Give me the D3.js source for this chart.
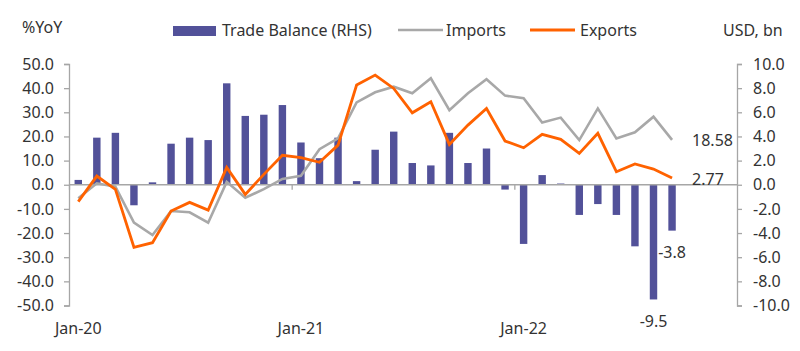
<!DOCTYPE html>
<html>
<head>
<meta charset="utf-8">
<script src="https://cdn.jsdelivr.net/npm/d3@7"></script>
<style>
  body { margin: 0; background: #fff; }
  svg text { font-family: 'Noto Sans', 'Open Sans', sans-serif; fill: #333; }
</style>
</head>
<body>
<div id="chart"></div>
<script>
var W = 800;
var H = 351;
var fs = '16px';

// axis slots run Jan-20 .. Dec-22, data stops at Sep-22
var months = ['Jan-20','Feb-20','Mar-20','Apr-20','May-20','Jun-20','Jul-20','Aug-20','Sep-20','Oct-20','Nov-20','Dec-20',
  'Jan-21','Feb-21','Mar-21','Apr-21','May-21','Jun-21','Jul-21','Aug-21','Sep-21','Oct-21','Nov-21','Dec-21',
  'Jan-22','Feb-22','Mar-22','Apr-22','May-22','Jun-22','Jul-22','Aug-22','Sep-22','Oct-22','Nov-22','Dec-22'];
var xLabels = ['Jan-20', 'Jan-21', 'Jan-22'];

var tradeBalance = [0.4, 3.9, 4.3, -1.7, 0.2, 3.4, 3.9, 3.7, 8.4, 5.7, 5.8, 6.6,
  3.5, 2.2, 3.9, 0.3, 2.9, 4.4, 1.8, 1.6, 4.3, 1.8, 3.0, -0.4,
  -4.9, 0.8, 0.1, -2.5, -1.6, -2.5, -5.1, -9.5, -3.8];
var imports = [-5.6, 0.6, -0.8, -15.7, -20.8, -10.9, -11.4, -15.7, 1.2, -5.4, -1.8, 2.4,
  3.7, 14.7, 19.2, 34.1, 38.3, 40.6, 37.9, 44.1, 30.9, 37.9, 43.7, 36.9,
  35.8, 25.8, 27.8, 18.5, 31.6, 19.2, 21.7, 28.2, 18.58];
var exports = [-7.0, 3.6, -1.9, -25.9, -24.0, -10.9, -7.3, -10.5, 7.2, -4.0, 4.3, 12.2,
  11.2, 9.3, 16.4, 41.3, 45.4, 39.9, 29.8, 34.4, 16.7, 24.7, 31.6, 18.1,
  15.3, 20.9, 18.8, 13.0, 21.3, 5.4, 8.6, 6.5, 2.77];

var leftTicks = [-50, -40, -30, -20, -10, 0, 10, 20, 30, 40, 50];
var rightTicks = [-10, -8, -6, -4, -2, 0, 2, 4, 6, 8, 10];
var barLabelled = ['Aug-22', 'Sep-22'];

var blue = '#525199';
var grey = '#a8a8a8';
var orange = '#ff6200';
var axisCol = '#a6a6a6';

var svg = d3.select('#chart').append('svg').attr('width', W).attr('height', H);

var x = d3.scaleBand().domain(months).range([69, 737]).paddingInner(0.6).paddingOuter(0.3);
var step = x.step();
var yL = d3.scaleLinear().domain([-50, 50]).range([305.5, 64]);
var yR = d3.scaleLinear().domain([-10, 10]).range([305.5, 64]);

function cx(i) { return x(months[i]) + x.bandwidth() / 2; }
function fmt(d) { return d3.format('.1f')(d).replace('\u2212', '-'); }

/* ===== BARS ===== */
svg.selectAll('rect.bar')
  .data(tradeBalance)
  .enter()
  .append('rect')
  .attr('class', 'bar')
  .attr('x', function (d, i) { return x(months[i]); })
  .attr('width', x.bandwidth())
  .attr('y', function (d) { return Math.min(yR(d), yR(0)); })
  .attr('height', function (d) { return Math.abs(yR(d) - yR(0)); })
  .attr('fill', blue);

/* ===== AXES ===== */
var leftAxis = svg.append('g')
  .attr('transform', 'translate(69,0)')
  .call(d3.axisLeft(yL).tickValues(leftTicks).tickSize(5).tickPadding(10).tickFormat(fmt));
var rightAxis = svg.append('g')
  .attr('transform', 'translate(737,0)')
  .call(d3.axisRight(yR).tickValues(rightTicks).tickSize(5).tickPadding(11).tickFormat(fmt));

[leftAxis, rightAxis].forEach(function (g) {
  g.select('.domain').attr('stroke', axisCol).attr('stroke-width', 1.3);
  g.selectAll('.tick line').attr('stroke', axisCol).attr('stroke-width', 1.3);
  g.selectAll('.tick text').style('font-size', fs).attr('fill', '#333');
});

// zero line with yearly ticks
svg.append('line')
  .attr('x1', 69).attr('x2', 737)
  .attr('y1', yL(0)).attr('y2', yL(0))
  .attr('stroke', axisCol).attr('stroke-width', 1.3);

svg.selectAll('line.xtick')
  .data(xLabels)
  .enter()
  .append('line')
  .attr('class', 'xtick')
  .attr('x1', function (d) { return x(d) - step * x.paddingInner() / 2 + 0.5; })
  .attr('x2', function (d) { return x(d) - step * x.paddingInner() / 2 + 0.5; })
  .attr('y1', yL(0)).attr('y2', yL(0) + 5)
  .attr('stroke', axisCol).attr('stroke-width', 1.3);

svg.selectAll('text.xlab')
  .data(xLabels)
  .enter()
  .append('text')
  .attr('class', 'xlab')
  .attr('x', function (d) { return x(d) + x.bandwidth() / 2; })
  .attr('y', 328)
  .attr('dy', '0.35em')
  .attr('text-anchor', 'middle')
  .style('font-size', fs)
  .text(function (d) { return d; });

/* ===== LINES ===== */
var line = d3.line()
  .x(function (d, i) { return cx(i); })
  .y(function (d) { return yL(d); });

svg.append('path')
  .datum(imports)
  .attr('d', line)
  .attr('fill', 'none')
  .attr('stroke', grey)
  .attr('stroke-width', 2.6)
  .attr('stroke-linejoin', 'miter');

svg.append('path')
  .datum(exports)
  .attr('d', line)
  .attr('fill', 'none')
  .attr('stroke', orange)
  .attr('stroke-width', 2.8)
  .attr('stroke-linejoin', 'miter');

/* ===== END LABELS ===== */
var last = imports.length - 1;
svg.append('text')
  .attr('x', cx(last) + 20)
  .attr('y', yL(imports[last]) + 1)
  .attr('dy', '0.35em')
  .style('font-size', fs)
  .text(imports[last].toFixed(2));
svg.append('text')
  .attr('x', cx(last) + 20)
  .attr('y', yL(exports[last]) + 1)
  .attr('dy', '0.35em')
  .style('font-size', fs)
  .text(exports[last].toFixed(2));

svg.selectAll('text.barlab')
  .data(barLabelled)
  .enter()
  .append('text')
  .attr('class', 'barlab')
  .attr('x', function (d) { return x(d) + x.bandwidth() / 2; })
  .attr('y', function (d) { return yR(tradeBalance[months.indexOf(d)]) + 22; })
  .attr('dy', '0.35em')
  .attr('text-anchor', 'middle')
  .style('font-size', fs)
  .text(function (d) { return fmt(tradeBalance[months.indexOf(d)]); });

/* ===== LEGEND & UNITS ===== */
svg.append('text').attr('x', 22).attr('y', 27).attr('dy', '0.35em').style('font-size', fs).text('%YoY');
svg.append('text').attr('x', 723).attr('y', 30).attr('dy', '0.35em').style('font-size', fs).text('USD, bn');

svg.append('rect').attr('x', 173).attr('y', 26).attr('width', 43).attr('height', 10).attr('fill', blue);
svg.append('text').attr('x', 222).attr('y', 30).attr('dy', '0.35em').style('font-size', fs).text('Trade Balance (RHS)');

svg.append('line').attr('x1', 398).attr('x2', 443).attr('y1', 30).attr('y2', 30).attr('stroke', grey).attr('stroke-width', 2.6);
svg.append('text').attr('x', 446).attr('y', 30).attr('dy', '0.35em').style('font-size', fs).text('Imports');

svg.append('line').attr('x1', 530).attr('x2', 575).attr('y1', 30).attr('y2', 30).attr('stroke', orange).attr('stroke-width', 2.8);
svg.append('text').attr('x', 580).attr('y', 30).attr('dy', '0.35em').style('font-size', fs).text('Exports');
</script>
</body>
</html>
